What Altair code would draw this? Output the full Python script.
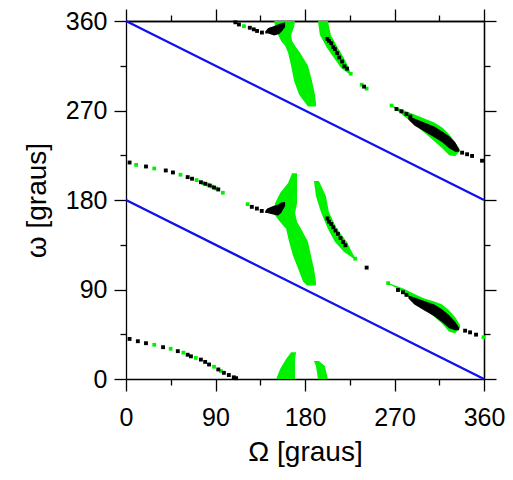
import altair as alt
import pandas as pd

GREEN = "#00f000"
BLACK = "#000000"
BLUE = "#1010f0"

# ---- green regions described along omega (omega, Omega_low, Omega_high)
A_w = [360, 354, 346, 340, 335, 328, 315, 300, 286, 278, 274]
A_lo = [149, 150, 153, 156, 160, 163, 166, 169, 174, 180, 183]
A_hi = [170, 169, 166, 167, 170, 175, 183, 187, 190, 191, 191]

B_w = [207, 197, 187, 177, 167, 158, 151, 138, 124, 111, 98, 94]
B_lo = [167, 163, 155, 150, 148, 155, 161, 164, 168, 173, 178, 182]
B_hi = [172, 172, 172, 172, 170, 172, 176, 183, 186, 189, 191, 191]

C_w = [27, 20, 10, 0]
C_lo = [166, 161, 155, 151]
C_hi = [171, 170, 170, 170]

D_w = [360, 346, 333, 323, 313, 307]
D_lo = [193, 195, 202, 209, 216, 224]
D_hi = [203, 206, 213, 219, 224, 226]

E_w = [199, 184, 168, 151, 138, 128, 121]
E_lo = [189, 191, 196, 203, 210, 219, 229]
E_hi = [194, 201, 204, 212, 222, 227, 231]

F_w = [18, 13, 0]
F_lo = [189, 191, 193]
F_hi = [194, 200, 203]

# ---- green regions described along Omega (Omega, omega_low, omega_high)
G_W = [267, 272, 280, 290, 300, 310, 318, 325, 331, 336]
G_lo = [274.5, 270.5, 264, 256, 248, 239, 232, 225, 224, 229.5]
G_hi = [275.5, 273, 270, 266, 262, 258, 253, 246, 238, 230.5]

H_W = [264, 272, 280, 290, 300, 310, 318, 325, 331, 336]
H_lo = [95.5, 91.5, 86, 78, 70.5, 62.5, 55.5, 47.5, 46, 51.5]
H_hi = [96.5, 93.5, 90.5, 85.5, 81, 78, 75, 69, 62, 54]

# ---- black cores (Omega, omega_low, omega_high)
I_W = [284, 290, 300, 310, 318, 325, 331, 335]
I_lo = [261, 255, 249, 243, 238, 232, 228.5, 228.5]
I_hi = [264, 262, 258, 254, 249, 244, 238, 231]

J_W = [284, 290, 300, 310, 318, 325, 331, 335]
J_lo = [81, 75, 69, 63, 57, 51, 49, 49]
J_hi = [84, 82, 78.5, 75, 70, 64, 57.5, 51.5]

K_W = [140, 143, 149, 154, 157, 160]
K_lo = [347.5, 347.5, 345.5, 347, 350, 354]
K_hi = [349.5, 353, 355, 357, 358, 358.5]

L_W = [140, 142, 148, 153, 156, 160]
L_lo = [167, 167, 165.5, 164.5, 167, 174]
L_hi = [169, 171.5, 174, 175.5, 177.5, 178]

# ---- black points (Omega, omega)
blk_W = [110, 113.6, 124.5, 128.5, 131.8, 136.7,
         126.5, 131.6, 136.5,
         202.5, 204.1, 206.4, 208.4, 210.1, 212.4, 214.4, 217.3, 219.6, 222.3, 239.4,
         202.5, 204.1, 206.4, 208.4, 210.7, 213.1, 215.7, 218.3, 220.6, 242,
         272, 277, 282, 286, 338, 343, 348, 358,
         273.5, 278.5, 282, 341, 346, 352,
         3.6, 20.1, 40, 47.2, 62, 66.4, 75.3, 79.7, 84.2, 88.5, 92.8,
         3.6, 11.9, 20.1, 37.3, 52.1, 62, 65.3, 75.3, 79.6, 83.5, 92.8, 98.4, 103.4, 108.4, 110.7]
blk_w = [358.7, 356.5, 353.2, 351.6, 350, 348.4,
         173.1, 171.4, 169,
         342, 340, 337.7, 333.7, 331.7, 327.7, 323.3, 319.3, 314.4, 312.1, 294,
         161.5, 158.2, 155.8, 152.6, 149.3, 146, 141.7, 137.7, 134.5, 112,
         271.5, 269.2, 266.5, 263.9, 227.6, 226, 224.3, 219.5,
         89.5, 87.2, 84.6, 48.6, 46.9, 44.6,
         217.7, 213.7, 209.7, 207.7, 203, 201.4, 197.9, 196.3, 194.6, 192.6, 190.6,
         40.3, 38, 36, 32, 28, 24.4, 22.8, 19.5, 17.2, 14.6, 9.6, 6.2, 4, 1.7, 0.8]

# ---- green points (Omega, omega)
grn_W = [118.6, 122.3, 237, 242, 267, 263.6, 359.5,
         10.2, 28.4, 54.8, 71, 77.5, 82, 86.4, 90.6, 97.4,
         28.4, 44.9, 57.7, 70.2, 88.5, 95.5, 226, 230.5]
grn_w = [354.8, 175.8, 296, 292, 275, 96.4, 42,
         215.3, 211.7, 205.4, 200, 197, 195.5, 193.6, 191.6, 187.3,
         34.4, 30.4, 26.5, 21.2, 12.3, 8, 307, 121]

# ---- blue lines
line_id = ["a", "a", "b", "b"]
line_W = [0, 360, 0, 360]
line_w = [360, 180, 180, 0]

major = [0, 90, 180, 270, 360]
minor = [45, 135, 225, 315]


def along_w(name, w, lo, hi):
    return pd.DataFrame({"blob": name, "w": w, "lo": lo, "hi": hi})


def along_W(name, W, lo, hi):
    return pd.DataFrame({"blob": name, "W": W, "lo": lo, "hi": hi})


dfh = pd.concat([along_w("A", A_w, A_lo, A_hi), along_w("B", B_w, B_lo, B_hi),
                 along_w("C", C_w, C_lo, C_hi), along_w("D", D_w, D_lo, D_hi),
                 along_w("E", E_w, E_lo, E_hi), along_w("F", F_w, F_lo, F_hi)])
dfv_g = pd.concat([along_W("G", G_W, G_lo, G_hi), along_W("H", H_W, H_lo, H_hi)])
dfv_k = pd.concat([along_W("I", I_W, I_lo, I_hi), along_W("J", J_W, J_lo, J_hi),
                   along_W("K", K_W, K_lo, K_hi), along_W("L", L_W, L_lo, L_hi)])
dfb = pd.DataFrame({"W": blk_W, "w": blk_w})
dfg = pd.DataFrame({"W": grn_W, "w": grn_w})
dfl = pd.DataFrame({"id": line_id, "W": line_W, "w": line_w})

sc = alt.Scale(domain=[0, 360], nice=False, zero=False)

common = dict(labelFont="Liberation Sans", labelFontSize=25, labelColor="black",
              labelFlush=False, labelOverlap=False, grid=False,
              tickColor="black", tickWidth=1.3, domainColor="black", domainWidth=1.3,
              titleFont="Liberation Sans", titleFontSize=28, titleFontWeight="normal",
              titleColor="black")

x_main = alt.Axis(orient="bottom", values=major, tickSize=12, labelPadding=14,
                  title="Ω [graus]", titlePadding=8, **common)
y_main = alt.Axis(orient="left", values=major, tickSize=12, labelPadding=7,
                  title="ω [graus]", titlePadding=14, **common)


def tick_axis(orient, vals, size):
    return alt.Axis(orient=orient, values=vals, tickSize=size, labels=False,
                    title=None, domain=orient in ("top", "right"), **common)


green_h = alt.Chart(dfh).mark_area(orient="horizontal", color=GREEN, opacity=1).encode(
    y=alt.Y("w:Q", scale=sc, axis=y_main),
    x=alt.X("lo:Q", scale=sc, axis=x_main),
    x2="hi:Q",
    detail="blob:N",
)

green_v = alt.Chart(dfv_g).mark_area(orient="vertical", color=GREEN, opacity=1).encode(
    x=alt.X("W:Q", scale=sc, axis=None),
    y=alt.Y("lo:Q", scale=sc, axis=None),
    y2="hi:Q",
    detail="blob:N",
)

green_pts = alt.Chart(dfg).mark_square(color=GREEN, size=14, opacity=1).encode(
    x=alt.X("W:Q", scale=sc, axis=None),
    y=alt.Y("w:Q", scale=sc, axis=None),
)

black_v = alt.Chart(dfv_k).mark_area(orient="vertical", color=BLACK, opacity=1).encode(
    x=alt.X("W:Q", scale=sc, axis=None),
    y=alt.Y("lo:Q", scale=sc, axis=None),
    y2="hi:Q",
    detail="blob:N",
)

black_pts = alt.Chart(dfb).mark_square(color=BLACK, size=15, opacity=1).encode(
    x=alt.X("W:Q", scale=sc, axis=None),
    y=alt.Y("w:Q", scale=sc, axis=None),
)

lines = alt.Chart(dfl).mark_line(color=BLUE, strokeWidth=2.4).encode(
    x=alt.X("W:Q", scale=sc, axis=None),
    y=alt.Y("w:Q", scale=sc, axis=None),
    detail="id:N",
)

ticks_top = alt.Chart(dfl).mark_point(opacity=0).encode(
    x=alt.X("W:Q", scale=sc, axis=tick_axis("top", major, 12)),
    y=alt.Y("w:Q", scale=sc, axis=tick_axis("right", major, 12)),
)
ticks_minor_bl = alt.Chart(dfl).mark_point(opacity=0).encode(
    x=alt.X("W:Q", scale=sc, axis=tick_axis("bottom", minor, 6)),
    y=alt.Y("w:Q", scale=sc, axis=tick_axis("left", minor, 6)),
)
ticks_minor_tr = alt.Chart(dfl).mark_point(opacity=0).encode(
    x=alt.X("W:Q", scale=sc, axis=tick_axis("top", minor, 6)),
    y=alt.Y("w:Q", scale=sc, axis=tick_axis("right", minor, 6)),
)

chart = alt.layer(
    green_h, green_v, green_pts, black_v, black_pts, lines,
    ticks_top, ticks_minor_bl, ticks_minor_tr,
).resolve_axis(x="independent", y="independent").properties(
    width=358, height=358,
    autosize=alt.AutoSizeParams(type="none"),
    padding={"left": 118, "top": 13, "right": 21, "bottom": 93},
).configure_view(stroke=None).configure(background="white")

chart.save("out.html", embed_options={"renderer": "svg", "actions": False})
